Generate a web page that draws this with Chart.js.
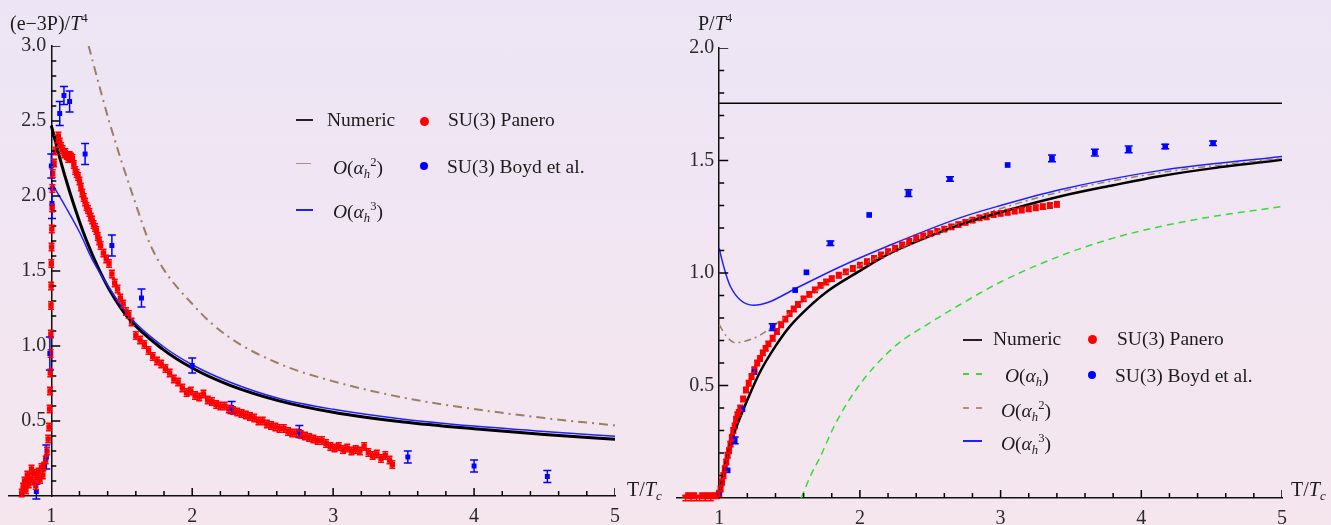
<!DOCTYPE html>
<html lang="en">
<head>
<meta charset="UTF-8">
<title>Trace anomaly and pressure vs T/Tc</title>
<script src="https://cdn.jsdelivr.net/npm/chart.js"></script>
<style>
    body, html {
        margin: 0;
        padding: 0;
        width: 1331px;
        height: 525px;
        overflow: hidden;
        font-family: 'Liberation Serif', serif;
        background: linear-gradient(#ede5f5, #f5e6ee);
    }
    canvas { position: absolute; top: 0; }
    #leftChart { left: 0; }
    #rightChart { left: 665px; }
    .tx {
        position: absolute;
        font-size: 19.5px;
        line-height: 20px;
        color: #1c1c1c;
        white-space: nowrap;
    }
    .title { font-size: 20px; }
    .tx sup, .tx sub { font-size: 0.65em; line-height: 0; }
    .tx sup { vertical-align: 0.6em; }
    .tx sub { vertical-align: -0.3em; }
    .ln { position: absolute; height: 0; }
    .dot { position: absolute; border-radius: 50%; }
</style>
</head>
<body>
<canvas id="leftChart" width="665" height="525"></canvas>
<canvas id="rightChart" width="666" height="525"></canvas>

<!-- axis titles -->
<div class="tx title" style="left:10px; top:13px;">(e&minus;3P)/<i>T</i><sup>4</sup></div>
<div class="tx title" style="left:698px; top:13px;">P/<i>T</i><sup>4</sup></div>
<div class="tx title" style="left:627px; top:479px;">T/<i>T</i><sub><i>c</i></sub></div>
<div class="tx title" style="left:1291px; top:479px;">T/<i>T</i><sub><i>c</i></sub></div>

<!-- left legend -->
<div class="ln" style="left:296px; top:119px; width:17px; border-top:2px solid #222;"></div>
<div class="tx" style="left:327px; top:110px;">Numeric</div>
<div class="dot" style="left:420px; top:117px; width:9px; height:9px; background:#ff0000;"></div>
<div class="tx" style="left:448px; top:110px;">SU(3) Panero</div>
<div class="ln" style="left:296px; top:163px; width:15px; border-top:1.5px solid #b09272;"></div>
<div class="tx" style="left:333px; top:158px;"><i>O</i>(<i>α<sub>h</sub></i><sup>2</sup>)</div>
<div class="dot" style="left:420px; top:162px; width:8px; height:8px; background:#0000ff;"></div>
<div class="tx" style="left:447px; top:157px;">SU(3) Boyd et al.</div>
<div class="ln" style="left:296px; top:209px; width:17px; border-top:2px solid #2020ff;"></div>
<div class="tx" style="left:333px; top:202px;"><i>O</i>(<i>α<sub>h</sub></i><sup>3</sup>)</div>

<!-- right legend -->
<div class="ln" style="left:963px; top:339px; width:19px; border-top:2px solid #222;"></div>
<div class="tx" style="left:993px; top:329px;">Numeric</div>
<div class="dot" style="left:1088px; top:335px; width:9px; height:9px; background:#ff0000;"></div>
<div class="tx" style="left:1117px; top:329px;">SU(3) Panero</div>
<div class="ln" style="left:963px; top:373px; width:19px; border-top:2px dashed #33dd33;"></div>
<div class="tx" style="left:1005px; top:366px;"><i>O</i>(<i>α<sub>h</sub></i>)</div>
<div class="dot" style="left:1088px; top:371px; width:8px; height:8px; background:#0000ff;"></div>
<div class="tx" style="left:1115px; top:366px;">SU(3) Boyd et al.</div>
<div class="ln" style="left:963px; top:407px; width:19px; border-top:2px dashed #b09272;"></div>
<div class="tx" style="left:1001px; top:401px;"><i>O</i>(<i>α<sub>h</sub></i><sup>2</sup>)</div>
<div class="ln" style="left:963px; top:440px; width:19px; border-top:2px solid #2020ff;"></div>
<div class="tx" style="left:1001px; top:434px;"><i>O</i>(<i>α<sub>h</sub></i><sup>3</sup>)</div>

<script>
    // ---- left panel: (e-3P)/T^4 ----
    const numLx = [1.0, 1.06, 1.13, 1.2, 1.25, 1.33, 1.41, 1.55, 1.79, 2.0, 2.26, 2.61, 3.0, 3.5, 4.0, 4.5, 5.0];
    const numLy = [2.47, 2.254, 2.03, 1.83, 1.703, 1.527, 1.379, 1.183, 0.979, 0.853, 0.741, 0.636, 0.558, 0.493, 0.448, 0.41, 0.378];

    const o2Lx = [1.265, 1.41, 1.58, 1.72, 2.02, 2.26, 2.61, 2.96, 3.53, 4.0, 4.5, 5.0];
    const o2Ly = [3.0, 2.5, 2.0, 1.64, 1.26, 1.06, 0.885, 0.775, 0.65, 0.58, 0.52, 0.47];

    const o3Lx = [1.0, 1.1, 1.2, 1.3, 1.41, 1.55, 1.79, 2.0, 2.26, 2.61, 3.0, 3.5, 4.0, 4.5, 5.0];
    const o3Ly = [2.09, 1.93, 1.76, 1.56, 1.39, 1.2, 1.0, 0.875, 0.762, 0.652, 0.578, 0.512, 0.466, 0.43, 0.398];

    const panLx = [0.79, 0.80, 0.81, 0.82, 0.83, 0.84, 0.85, 0.86, 0.87, 0.88, 0.89, 0.90, 0.91, 0.92, 0.93, 0.94, 0.95, 0.96, 0.97,
        0.978, 0.984, 0.988, 0.991, 0.993, 0.995, 0.997, 0.998, 0.999, 1.000, 1.002, 1.004, 1.006, 1.008, 1.010,
        1.02, 1.03, 1.04, 1.05, 1.06, 1.07, 1.08, 1.09, 1.10, 1.11, 1.12, 1.13, 1.14, 1.15, 1.16, 1.17, 1.18, 1.19, 1.20, 1.21,
        1.22, 1.23, 1.24, 1.25, 1.26, 1.27, 1.28, 1.29, 1.30, 1.31, 1.32, 1.33, 1.34, 1.35,
        1.37, 1.39, 1.41, 1.43, 1.45, 1.47, 1.49, 1.51, 1.53, 1.55, 1.57,
        1.60, 1.63, 1.66, 1.69, 1.72, 1.75, 1.78, 1.81, 1.84, 1.87, 1.90, 1.93, 1.96, 1.99, 2.02, 2.05, 2.08, 2.11, 2.14, 2.17,
        2.20, 2.23, 2.26, 2.29, 2.32, 2.35, 2.38, 2.41, 2.44, 2.47, 2.50, 2.53, 2.56, 2.59, 2.62, 2.65, 2.68, 2.71, 2.74, 2.77,
        2.80, 2.83, 2.86, 2.89, 2.92, 2.95, 2.98, 3.01, 3.04, 3.07, 3.10, 3.13, 3.16, 3.19, 3.22, 3.25, 3.28, 3.31, 3.34, 3.37,
        3.40, 3.42];
    const panLy = [0.02, 0.06, 0.10, 0.04, 0.14, 0.08, 0.12, 0.18, 0.10, 0.15, 0.07, 0.12, 0.16, 0.11, 0.19, 0.14, 0.20, 0.24, 0.30,
        0.38, 0.46, 0.58, 0.70, 0.82, 0.95, 1.08, 1.27, 1.40, 1.55, 1.66, 1.78, 1.92, 2.05, 2.15,
        2.22, 2.30, 2.38, 2.40, 2.36, 2.33, 2.31, 2.28, 2.29, 2.27, 2.25, 2.27, 2.26, 2.25, 2.21, 2.17, 2.15, 2.13, 2.10, 2.06,
        2.02, 1.99, 1.96, 1.93, 1.91, 1.89, 1.86, 1.84, 1.81, 1.79, 1.77, 1.73, 1.70, 1.67,
        1.62, 1.58, 1.55, 1.48, 1.42, 1.38, 1.32, 1.28, 1.23, 1.21, 1.16,
        1.07, 1.04, 1.01, 0.97, 0.93, 0.90, 0.88, 0.85, 0.82, 0.78, 0.76, 0.72, 0.69, 0.70, 0.67, 0.66, 0.68, 0.64, 0.63, 0.61,
        0.60, 0.60, 0.58, 0.57, 0.56, 0.55, 0.54, 0.53, 0.52, 0.50, 0.50, 0.48, 0.47, 0.46, 0.45, 0.45, 0.43, 0.42, 0.42, 0.41,
        0.40, 0.39, 0.38, 0.37, 0.37, 0.35, 0.33, 0.32, 0.33, 0.31, 0.32, 0.30, 0.31, 0.30, 0.33, 0.29, 0.27, 0.28, 0.25, 0.27,
        0.24, 0.21];
    const panLerr = 0.025;

    const boydLx = [0.894, 0.965, 0.99, 1.0, 1.005, 1.06, 1.09, 1.13, 1.24, 1.43, 1.64, 2.0, 2.28, 2.76, 3.53, 4.0, 4.52];
    const boydLy = [0.03, 0.26, 0.95, 2.2, 1.95, 2.55, 2.67, 2.63, 2.28, 1.67, 1.32, 0.87, 0.59, 0.43, 0.26, 0.20, 0.13];
    const boydLerr = [0.05, 0.08, 0.11, 0.08, 0.10, 0.08, 0.06, 0.07, 0.07, 0.07, 0.06, 0.05, 0.04, 0.04, 0.04, 0.04, 0.04];

    // ---- right panel: P/T^4 ----
    const sbX = [1, 5];
    const sbY = [1.7546, 1.7546];

    const numRx = [1.0, 1.02, 1.05, 1.08, 1.15, 1.22, 1.29, 1.4, 1.505, 1.63, 1.765, 1.99, 2.215, 2.5, 2.71, 3.0, 3.42, 3.8, 4.13, 4.5, 5.0];
    const numRy = [0, 0.075, 0.165, 0.24, 0.36, 0.465, 0.56, 0.675, 0.765, 0.845, 0.917, 1.006, 1.088, 1.165, 1.214, 1.27, 1.34, 1.39, 1.43, 1.465, 1.503];

    const o1Rx = [1.583, 1.65, 1.718, 1.81, 1.908, 2.03, 2.168, 2.3, 2.452, 2.713, 3.0, 3.42, 3.8, 4.13, 4.5, 5.0];
    const o1Ry = [0, 0.10, 0.183, 0.31, 0.42, 0.53, 0.627, 0.70, 0.761, 0.86, 0.96, 1.075, 1.155, 1.206, 1.25, 1.295];

    const o2Rx = [1.0, 1.05, 1.114, 1.2, 1.29, 1.457, 1.67, 1.955, 2.3, 2.71, 3.42, 4.13, 5.0];
    const o2Ry = [0.77, 0.72, 0.69, 0.70, 0.724, 0.80, 0.91, 1.02, 1.115, 1.225, 1.36, 1.445, 1.51];

    const o3Rx = [1.0, 1.02, 1.05, 1.08, 1.15, 1.244, 1.35, 1.54, 1.86, 2.2, 2.71, 3.0, 3.42, 4.13, 5.0];
    const o3Ry = [1.11, 1.057, 0.99, 0.94, 0.88, 0.857, 0.87, 0.93, 1.028, 1.12, 1.245, 1.30, 1.37, 1.455, 1.518];

    const panRx = [0.76, 0.78, 0.80, 0.82, 0.84, 0.86, 0.88, 0.90, 0.92, 0.94, 0.96, 0.98, 1.00,
        1.01, 1.02, 1.03, 1.04, 1.05, 1.06, 1.07, 1.08, 1.09, 1.10, 1.11, 1.12, 1.13, 1.14, 1.15,
        1.17, 1.19, 1.21, 1.23, 1.25, 1.27, 1.29, 1.31, 1.33, 1.35,
        1.38, 1.41, 1.44, 1.47, 1.50, 1.53, 1.56,
        1.60, 1.64, 1.68, 1.72, 1.76, 1.80,
        1.85, 1.90, 1.95, 2.00, 2.05, 2.10, 2.15, 2.20, 2.25, 2.30, 2.35, 2.40, 2.45, 2.50, 2.55, 2.60,
        2.65, 2.70, 2.75, 2.80, 2.85, 2.90, 2.95, 3.00, 3.05, 3.10, 3.15, 3.20, 3.25, 3.30, 3.35, 3.40];
    const panRy = [0.00, 0.01, 0.00, 0.01, 0.00, 0.00, 0.01, 0.00, 0.01, 0.00, 0.01, 0.01, 0.02,
        0.04, 0.07, 0.10, 0.13, 0.16, 0.19, 0.21, 0.24, 0.27, 0.30, 0.32, 0.35, 0.37, 0.38, 0.40,
        0.44, 0.48, 0.51, 0.54, 0.57, 0.60, 0.62, 0.645, 0.665, 0.685,
        0.71, 0.74, 0.77, 0.795, 0.82, 0.84, 0.86,
        0.885, 0.905, 0.925, 0.945, 0.96, 0.975,
        0.99, 1.005, 1.02, 1.035, 1.05, 1.065, 1.08, 1.095, 1.11, 1.125, 1.14, 1.155, 1.165, 1.175, 1.185, 1.195,
        1.205, 1.215, 1.225, 1.235, 1.245, 1.25, 1.26, 1.265, 1.27, 1.275, 1.28, 1.285, 1.29, 1.295, 1.30, 1.305];
    const panRerr = 0.012;

    const boydRx = [1.00, 1.06, 1.11, 1.165, 1.25, 1.38, 1.54, 1.62, 1.79, 2.066, 2.345, 2.64, 3.05, 3.365, 3.67, 3.91, 4.17, 4.51];
    const boydRy = [0.024, 0.123, 0.256, 0.395, 0.56, 0.76, 0.924, 1.003, 1.132, 1.258, 1.355, 1.418, 1.48, 1.51, 1.535, 1.55, 1.562, 1.577];
    const boydRerr = [0, 0, 0.015, 0, 0, 0.015, 0, 0, 0.01, 0, 0.015, 0.01, 0, 0.015, 0.015, 0.015, 0.01, 0.01];

    // tick positions
    const xMajor = [1, 2, 3, 4, 5];
    const xMinor = [1.2, 1.4, 1.6, 1.8, 2.2, 2.4, 2.6, 2.8, 3.2, 3.4, 3.6, 3.8, 4.2, 4.4, 4.6, 4.8];
    const yMajorL = [0.5, 1.0, 1.5, 2.0, 2.5, 3.0];
    const yMajorR = [0.5, 1.0, 1.5, 2.0];
    const yMinor = [0.1, 0.2, 0.3, 0.4, 0.6, 0.7, 0.8, 0.9, 1.1, 1.2, 1.3, 1.4, 1.6, 1.7, 1.8, 1.9,
        2.1, 2.2, 2.3, 2.4, 2.6, 2.7, 2.8, 2.9];

    function pts(xs, ys) {
        return xs.map((x, i) => ({ x: x, y: ys[i] }));
    }

    Chart.defaults.font.family = "'Liberation Serif', serif";
    Chart.defaults.color = '#2a2a2a';

    // error bars on the lattice points
    const errorBars = {
        id: 'errorBars',
        afterDatasetsDraw(chart) {
            const ctx = chart.ctx;
            const ys = chart.scales.y;
            chart.data.datasets.forEach((ds, i) => {
                if (ds.errors === undefined) return;
                const meta = chart.getDatasetMeta(i);
                const cap = ds.capWidth || 4;
                ctx.save();
                ctx.strokeStyle = ds.backgroundColor;
                ctx.lineWidth = 1.5;
                ctx.beginPath();
                meta.data.forEach((el, j) => {
                    const e = Array.isArray(ds.errors) ? ds.errors[j] : ds.errors;
                    if (!e) return;
                    const v = ds.data[j].y;
                    const top = ys.getPixelForValue(v + e);
                    const bot = ys.getPixelForValue(v - e);
                    ctx.moveTo(el.x, top); ctx.lineTo(el.x, bot);
                    ctx.moveTo(el.x - cap, top); ctx.lineTo(el.x + cap, top);
                    ctx.moveTo(el.x - cap, bot); ctx.lineTo(el.x + cap, bot);
                });
                ctx.stroke();
                ctx.restore();
            });
        }
    };

    // Mathematica-style inward ticks, drawn as 'line' point markers sitting just
    // inside the axes; pxX / pxY are pixels per data unit of each panel
    function tickSets(pxX, pxY, yMajor, yMax) {
        const mk = (xs, ys, len, rot) => ({
            data: pts(xs, ys), showLine: false, pointStyle: 'line', pointRadius: len / 2,
            pointRotation: rot, pointBorderColor: '#000000', pointBorderWidth: 1.5,
            pointBackgroundColor: '#000000', order: 1
        });
        const yMin = yMinor.filter(v => v < yMax);
        return [
            mk(xMajor.slice(1), xMajor.slice(1).map(() => 4 / pxY), 8, 90),
            mk(xMinor, xMinor.map(() => 2.5 / pxY), 5, 90),
            mk(yMajor.map(() => 1 + 4.5 / pxX), yMajor, 9, 0),
            mk(yMin.map(() => 1 + 2.5 / pxX), yMin, 5, 0)
        ];
    }

    function scalesFor(yMax, yMajor) {
        return {
            x: {
                type: 'linear', min: 0.7, max: 5, position: { y: 0 },
                afterBuildTicks: s => { s.ticks = xMajor.map(v => ({ value: v })); },
                grid: { display: true, drawOnChartArea: false, drawTicks: false },
                border: { display: true, color: '#111', width: 1.5 },
                ticks: { font: { size: 20 }, padding: 9, autoSkip: false, maxRotation: 0, callback: v => String(v) }
            },
            y: {
                type: 'linear', min: 0, max: yMax, position: { x: 1 },
                afterBuildTicks: s => { s.ticks = yMajor.map(v => ({ value: v })); },
                grid: { display: true, drawOnChartArea: false, drawTicks: false },
                border: { display: true, color: '#111', width: 1.5 },
                ticks: { font: { size: 20 }, autoSkip: false, callback: v => v.toFixed(1) + ' ' }
            }
        };
    }

    function curve(label, xs, ys, color, width, dash, order) {
        return {
            label: label, data: pts(xs, ys), showLine: true, borderColor: color, backgroundColor: color,
            borderWidth: width, borderDash: dash, pointRadius: 0, cubicInterpolationMode: 'monotone', order: order
        };
    }

    function points(label, xs, ys, color, r, order, errs, cap) {
        return {
            label: label, data: pts(xs, ys), showLine: false, backgroundColor: color, borderWidth: 0,
            pointStyle: 'rect', pointRadius: r, order: order, errors: errs, capWidth: cap
        };
    }

    new Chart(document.getElementById('leftChart'), {
        type: 'scatter',
        data: {
            datasets: [
                points('SU(3) Boyd et al.', boydLx, boydLy, '#0000ff', 3.5, 0, boydLerr, 4),
                curve('O(αh^3)', o3Lx, o3Ly, '#2020ff', 1.5, [], 2),
                curve('Numeric', numLx, numLy, '#000000', 3, [], 3),
                curve('O(αh^2)', o2Lx, o2Ly, '#9c7e60', 2, [9, 5, 2, 5], 4),
                points('SU(3) Panero', panLx, panLy, '#ff0000', 3.8, 10, panLerr, 3)
            ].concat(tickSets(606 / 4.3, 450 / 3, yMajorL, 3))
        },
        options: {
            responsive: false,
            devicePixelRatio: 1,
            animation: false,
            layout: { padding: { left: 9, right: 50, top: 46, bottom: 29 } },
            plugins: { legend: { display: false }, tooltip: { enabled: false } },
            scales: scalesFor(3, yMajorL)
        },
        plugins: [errorBars]
    });

    new Chart(document.getElementById('rightChart'), {
        type: 'scatter',
        data: {
            datasets: [
                points('SU(3) Boyd et al.', boydRx, boydRy, '#0000ff', 4, 0, boydRerr, 4),
                curve('O(αh^3)', o3Rx, o3Ry, '#2020ff', 1.5, [], 2),
                curve('O(αh^2)', o2Rx, o2Ry, '#9c7e60', 1.5, [7, 4, 2, 4], 3),
                curve('Numeric', numRx, numRy, '#000000', 2.5, [], 4),
                curve('O(αh)', o1Rx, o1Ry, '#33dd33', 1.5, [7, 5], 5),
                curve('SB limit', sbX, sbY, '#000000', 1.5, [], 6),
                points('SU(3) Panero', panRx, panRy, '#ff0000', 4.2, 10, panRerr, 3)
            ].concat(tickSets(605 / 4.3, 450 / 2, yMajorR, 2))
        },
        options: {
            responsive: false,
            devicePixelRatio: 1,
            animation: false,
            layout: { padding: { left: 12, right: 49, top: 48, bottom: 27 } },
            plugins: { legend: { display: false }, tooltip: { enabled: false } },
            scales: scalesFor(2, yMajorR)
        },
        plugins: [errorBars]
    });
</script>
</body>
</html>
